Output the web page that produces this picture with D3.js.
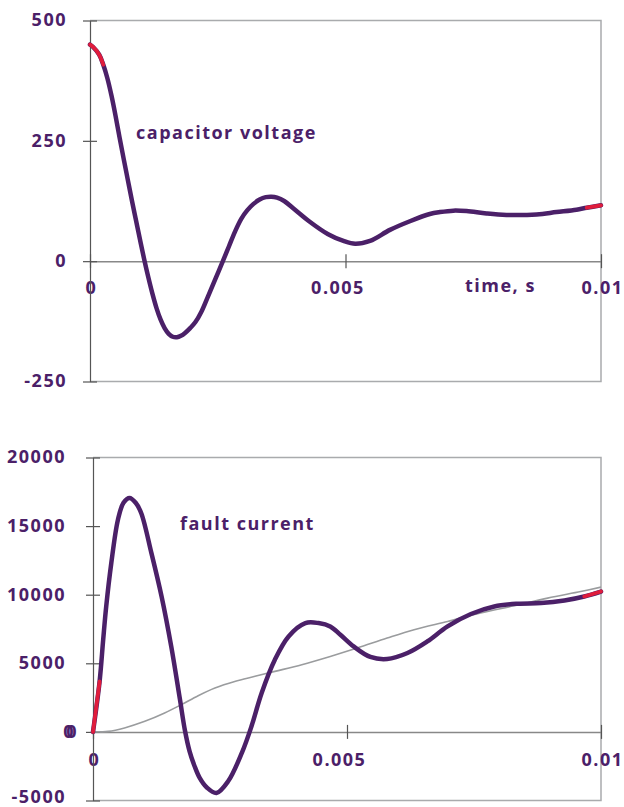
<!DOCTYPE html>
<html>
<head>
<meta charset="utf-8">
<script src="https://cdn.jsdelivr.net/npm/d3@7"></script>
<style>
  html, body { margin: 0; padding: 0; background: #ffffff; }
  svg { display: block; }
  text { font-family: "Open Sans", "Noto Sans", sans-serif; font-weight: 700; font-size: 18px; letter-spacing: 1.5px; fill: #4b2068; }
</style>
</head>
<body>
<svg id="chart" width="624" height="807"></svg>
<script>
// ---- axis ticks ----
const timeTicks = [0, 0.005, 0.01];
const timeTickLabels = ["0", "0.005", "0.01"];
const voltageTicks = [500, 250, 0, -250];
const currentTicks = [20000, 15000, 10000, 5000, 0, -5000];

// ---- capacitor voltage (V) against time (s) ----
const voltageTime = [0, 0.00006, 0.00018, 0.00026, 0.00034, 0.00042, 0.0005, 0.00058, 0.00066, 0.00074,
  0.00082, 0.0009, 0.00098, 0.00106, 0.00114, 0.00122, 0.0013, 0.00138, 0.00146, 0.00154,
  0.00162, 0.0017, 0.00178, 0.00186, 0.00196, 0.00206, 0.00218, 0.00231, 0.00245, 0.0026,
  0.00272, 0.00284, 0.00296, 0.00308, 0.0032, 0.00332, 0.00344, 0.00355, 0.00366, 0.0038,
  0.004, 0.0043, 0.00466, 0.00496, 0.00519, 0.00548, 0.00587, 0.00626, 0.00665, 0.00685,
  0.00711, 0.00737, 0.00776, 0.00815, 0.00874, 0.00913, 0.00952, 0.00972, 0.01];
const voltageValue = [450, 445, 429, 408, 380, 344, 302, 256, 212, 169,
  126, 85, 44, 4, -33, -67, -97, -121, -139, -151,
  -157, -158, -155, -149, -139, -127, -105, -73, -38, 0,
  31, 62, 88, 106, 119, 128, 133, 134, 132, 125,
  108, 82, 56, 42, 36, 42, 65, 83, 98, 102,
  105, 104, 99, 96, 97, 102, 107, 111, 116];
// highlighted stretches at the start and end of the voltage trace
const voltageStartTime = [0, 0.00006, 0.00018, 0.00026];
const voltageStartValue = [450, 445, 429, 408];
const voltageEndTime = [0.00972, 0.01];
const voltageEndValue = [111, 116];

// ---- fault current (A) against time (s) ----
const currentTime = [0, 0.00013, 0.0002, 0.00026, 0.00036, 0.00049, 0.0006, 0.00072, 0.00084, 0.00095,
  0.00115, 0.00135, 0.00154, 0.00171, 0.00181, 0.0019, 0.002, 0.0021, 0.00224, 0.00243,
  0.00266, 0.00293, 0.00312, 0.00332, 0.00358, 0.00385, 0.00418, 0.00444, 0.00467, 0.00487,
  0.00513, 0.00546, 0.00579, 0.00619, 0.00658, 0.00698, 0.00744, 0.0079, 0.00836, 0.00882,
  0.00928, 0.00967, 0.01];
const currentValue = [0, 3680, 6700, 9140, 12300, 15450, 16700, 17050, 16700, 15940,
  13030, 9870, 6230, 2400, 100, -1400, -2500, -3350, -4050, -4450,
  -3600, -1530, 410, 2840, 5260, 6960, 7930, 7930, 7690, 7080,
  6230, 5460, 5310, 5750, 6590, 7690, 8590, 9140, 9340, 9390,
  9580, 9870, 10230];
const currentStartTime = [0, 0.00013];
const currentStartValue = [0, 3680];
const currentEndTime = [0.00967, 0.01];
const currentEndValue = [9870, 10230];

// slowly rising grey companion trace on the current panel
const trendTime = [0, 0.0003, 0.00062, 0.00102, 0.00141, 0.00174, 0.00207, 0.0024, 0.00279, 0.00319,
  0.00358, 0.00411, 0.00467, 0.0052, 0.00579, 0.00632, 0.00698, 0.00763, 0.00829, 0.00895, 0.0096, 0.01];
const trendValue = [0, 40, 290, 770, 1380, 1990, 2640, 3200, 3680, 4050,
  4410, 4900, 5500, 6110, 6840, 7450, 8050, 8660, 9190, 9750, 10230, 10550];

// ---- styling ----
const ink = "#4b2068";
const red = "#e01c3c";
const borderGrey = "#a9abad";
const axisGrey = "#555555";
const zeroGrey = "#888888";

const svg = d3.select("#chart");
const plainNumber = d => String(d);   // keep an ASCII hyphen for negatives

function zip(ts, vs) { return ts.map((t, i) => [t, vs[i]]); }

function drawPanel(cfg) {
  const x = d3.scaleLinear().domain([0, 0.01]).range([cfg.left, cfg.right]);
  const y = d3.scaleLinear().domain(cfg.yDomain).range([cfg.bottom, cfg.top]);
  const g = svg.append("g");

  // plot frame: light grey top, right and bottom edges
  g.append("path")
    .attr("d", `M${cfg.left},${cfg.top}H${cfg.right}V${cfg.bottom}H${cfg.left}`)
    .attr("fill", "none").attr("stroke", borderGrey).attr("stroke-width", 1.5);

  // horizontal axis along zero
  const xAxis = g.append("g")
    .attr("transform", `translate(0,${y(0)})`)
    .call(d3.axisBottom(x).tickValues(timeTicks).tickFormat((d, i) => timeTickLabels[i]).tickSize(0));
  xAxis.attr("font-size", null).attr("font-family", null);
  xAxis.select(".domain").attr("stroke", zeroGrey).attr("stroke-width", 1.5);
  xAxis.selectAll(".tick line").attr("y1", -7).attr("y2", 7).attr("stroke", axisGrey).attr("stroke-width", 1.2);
  xAxis.selectAll(".tick text")
    .attr("y", cfg.xLabelDrop).attr("dy", null)
    .attr("dx", (d, i) => (i === 1 ? -8 : 1))
    .attr("fill", ink);

  // vertical axis on the left
  const yAxis = g.append("g")
    .attr("transform", `translate(${cfg.left},0)`)
    .call(d3.axisLeft(y).tickValues(cfg.yTicks).tickFormat(plainNumber).tickSize(0));
  yAxis.attr("font-size", null).attr("font-family", null);
  yAxis.select(".domain").attr("stroke", axisGrey).attr("stroke-width", 1.2);
  yAxis.selectAll(".tick line").attr("x1", -7).attr("x2", 7).attr("stroke", axisGrey).attr("stroke-width", 1.2);
  yAxis.selectAll(".tick text")
    .attr("x", cfg.yLabelRight - cfg.left).attr("dy", "0.3em")
    .attr("fill", ink);

  const line = d3.line().x(d => x(d[0])).y(d => y(d[1])).curve(d3.curveCatmullRom.alpha(0.5));
  return { x, y, g, line, yAxis };
}

// ---- upper panel: capacitor voltage ----
const upper = drawPanel({
  left: 90, right: 601, top: 20.5, bottom: 381.5,
  yDomain: [-250, 500], yTicks: voltageTicks, yLabelRight: 67, xLabelDrop: 33
});
upper.g.append("path").datum(zip(voltageTime, voltageValue))
  .attr("d", upper.line).attr("fill", "none").attr("stroke", ink)
  .attr("stroke-width", 4.5).attr("stroke-linejoin", "round").attr("stroke-linecap", "round");
[[voltageStartTime, voltageStartValue], [voltageEndTime, voltageEndValue]].forEach(([ts, vs]) => {
  upper.g.append("path").datum(zip(ts, vs))
    .attr("d", upper.line).attr("fill", "none").attr("stroke", red)
    .attr("stroke-width", 3.8).attr("stroke-linecap", "round");
});
upper.g.append("text").attr("x", 136).attr("y", 139).text("capacitor voltage");
upper.g.append("text").attr("x", 465).attr("y", 292).text("time, s");

// ---- lower panel: fault current ----
const lower = drawPanel({
  left: 93, right: 601, top: 457.5, bottom: 800.5,
  yDomain: [-5000, 20000], yTicks: currentTicks, yLabelRight: 66, xLabelDrop: 34
});
// the primary zero label sits a little to the right of the others
lower.yAxis.selectAll(".tick text").filter(d => d === 0).attr("x", 75 - 93);
// lowest label is lifted slightly so it stays inside the page
lower.yAxis.selectAll(".tick text").filter(d => d === -5000).attr("dy", "0.12em");
// secondary zero label for the grey trace's scale
const trendScale = lower.y.copy();
const trendAxis = lower.g.append("g")
  .attr("transform", `translate(${lower.x(0)},0)`)
  .call(d3.axisLeft(trendScale).tickValues([0]).tickFormat(plainNumber).tickSize(0));
trendAxis.attr("font-size", null).attr("font-family", null);
trendAxis.select(".domain").remove();
trendAxis.selectAll(".tick text").attr("x", 78 - 93).attr("dy", "0.3em").attr("fill", ink);

lower.g.append("path").datum(zip(trendTime, trendValue))
  .attr("d", lower.line).attr("fill", "none").attr("stroke", "#9a9c9e").attr("stroke-width", 1.6);
lower.g.append("path").datum(zip(currentTime, currentValue))
  .attr("d", lower.line).attr("fill", "none").attr("stroke", ink)
  .attr("stroke-width", 4.5).attr("stroke-linejoin", "round").attr("stroke-linecap", "round");
[[currentStartTime, currentStartValue], [currentEndTime, currentEndValue]].forEach(([ts, vs]) => {
  lower.g.append("path").datum(zip(ts, vs))
    .attr("d", lower.line).attr("fill", "none").attr("stroke", red)
    .attr("stroke-width", 3.8).attr("stroke-linecap", "round");
});
lower.g.append("text").attr("x", 180).attr("y", 530).text("fault current");
</script>
</body>
</html>
